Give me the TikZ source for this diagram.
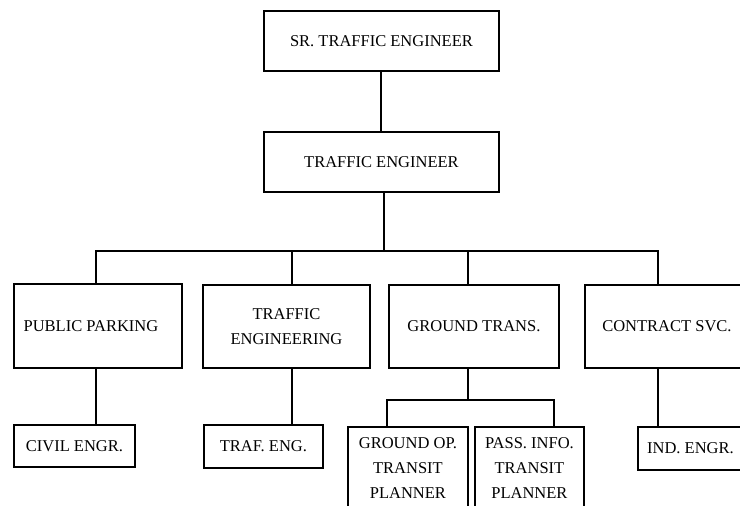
\documentclass[tikz,border=0pt]{standalone}
\usepackage{fontspec}
\setmainfont{Liberation Serif}
\usepackage{tikz}
\usetikzlibrary{positioning}

\begin{document}
\begin{tikzpicture}[
  x=1pt, y=-1pt,
  box/.style={draw, line width=1.9pt, anchor=north west, align=center,
    inner sep=2pt, font=\fontsize{16.5}{25}\selectfont},
  link/.style={line width=2pt},
]
\useasboundingbox (0,0) rectangle (740,506);
\clip (0,0) rectangle (740,506);

% Top of the chart
\node[box, minimum width=235, minimum height=60] (sr) at (263,10) {SR. TRAFFIC ENGINEER};
\node[box, minimum width=235, minimum height=60] (te) at (263,131) {TRAFFIC ENGINEER};

% Divisions
\node[box, minimum width=168, minimum height=84] (park) at (13,283) {PUBLIC PARKING\hspace*{14pt}};
\node[box, minimum width=167, minimum height=83] (trafeng) at (202,284) {TRAFFIC\\ENGINEERING};
\node[box, minimum width=170, minimum height=83] (ground) at (388,284) {GROUND TRANS.};
\node[box, minimum width=164, minimum height=83] (contract) at (584,284) {CONTRACT SVC.};

% Staff
\node[box, minimum width=121, minimum height=42] (civil) at (13,424) {CIVIL ENGR.};
\node[box, minimum width=119, minimum height=43] (trafe) at (203,424) {TRAF. ENG.};
\node[box, minimum width=120, text height=20pt, text depth=75pt] (groundop) at (347,426)
  {\begin{tabular}[t]{@{}c@{}}GROUND OP.\\TRANSIT\\PLANNER\end{tabular}};
\node[box, minimum width=109, text height=20pt, text depth=75pt] (passinfo) at (474,426)
  {\begin{tabular}[t]{@{}c@{}}PASS. INFO.\\TRANSIT\\PLANNER\end{tabular}};
\node[box, minimum width=105, minimum height=43] (ind) at (637,426) {IND. ENGR.};

% Connectors
\coordinate (hub) at (384,251);
\coordinate (pdrop) at ([xshift=-2pt]park.north);
\coordinate (tdrop) at ([xshift=6pt]trafeng.north);
\coordinate (gdrop) at ([xshift=-6pt]ground.north);
\coordinate (cdrop) at ([xshift=-9pt]contract.north);
\coordinate (split) at ([yshift=-116pt]gdrop);
\draw[link] (sr) -- (sr |- te.north);
\draw[link] (te.south -| hub) -- (hub);
\draw[link] (pdrop) |- (hub) -| (cdrop);
\draw[link] (tdrop) -- (tdrop |- hub);
\draw[link] (gdrop) -- (gdrop |- hub);

\draw[link] (pdrop |- park.south) -- (pdrop |- civil.north);
\draw[link] (tdrop |- trafeng.south) -- (tdrop |- trafe.north);
\draw[link] (gdrop |- ground.south) -- (split);
\draw[link] ([xshift=-21pt]groundop.north) |- (split) -| ([xshift=25pt]passinfo.north);
\draw[link] (cdrop |- contract.south) -- (cdrop |- ind.north);
\end{tikzpicture}
\end{document}
